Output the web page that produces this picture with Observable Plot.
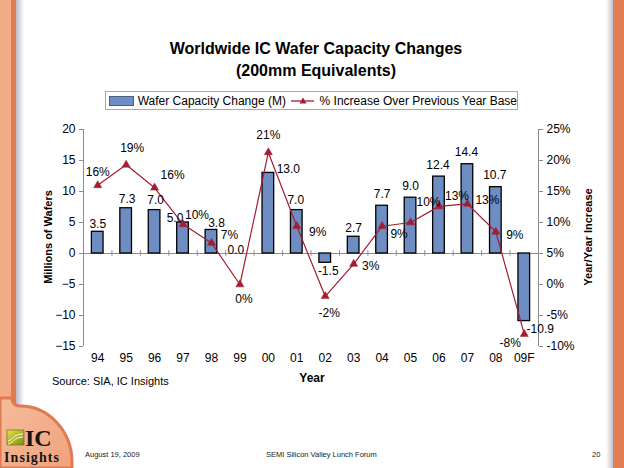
<!DOCTYPE html>
<html>
<head>
<meta charset="utf-8">
<script src="https://cdn.jsdelivr.net/npm/d3@7"></script>
<script src="https://cdn.jsdelivr.net/npm/@observablehq/plot@0.6"></script>
<style>
  html, body { margin: 0; padding: 0; background: #fff; }
  #page { position: relative; width: 624px; height: 468px; overflow: hidden; background: #fff; font-family: "Liberation Sans", Arial, sans-serif; color: #000; }
  .abs { position: absolute; white-space: nowrap; }
  #title { left: 16px; width: 600px; top: 38px; text-align: center; font-weight: bold; font-size: 16px; line-height: 22px; }
  #legend { left: 105px; top: 91px; width: 413px; height: 19px; border: 1px solid #a8a8a8; box-sizing: border-box; display: flex; align-items: center; font-size: 12px; }
  #chart { left: 0; top: 110px; }
  .ylab { font-weight: bold; font-size: 11px; transform: rotate(-90deg); transform-origin: center center; }
  .foot { font-size: 7.5px; line-height: 10px; color: #222; top: 450px; font-family: "Liberation Sans", Arial, sans-serif; }
</style>
</head>
<body>
<div id="page">
  <svg class="abs" style="left:0;top:0" width="624" height="468">
    <defs>
      <linearGradient id="shadeL" x1="0" x2="1" y1="0" y2="0">
        <stop offset="0" stop-color="#b9b9c4"/>
        <stop offset="1" stop-color="#ffffff"/>
      </linearGradient>
      <linearGradient id="shadeR" x1="1" x2="0" y1="0" y2="0">
        <stop offset="0" stop-color="#b9b9c4"/>
        <stop offset="1" stop-color="#ffffff"/>
      </linearGradient>
      <linearGradient id="corner" x1="0" x2="1" y1="0" y2="1">
        <stop offset="0" stop-color="#f6bc9c"/>
        <stop offset="1" stop-color="#f0a27c"/>
      </linearGradient>
      <linearGradient id="icon" x1="0" x2="1" y1="0" y2="1">
        <stop offset="0" stop-color="#e8e040"/>
        <stop offset="1" stop-color="#7c8c18"/>
      </linearGradient>
    </defs>
    <rect x="16" y="0" width="8" height="468" fill="url(#shadeL)"/>
    <rect x="0" y="0" width="12" height="468" fill="#f2ab85"/>
    <rect x="11" y="0" width="5" height="468" fill="#e07a50"/>
    <rect x="606" y="0" width="8" height="468" fill="url(#shadeR)"/>
    <rect x="613" y="0" width="11" height="468" fill="#e27e55"/>
    <path d="M0,398 L12,398 Q12,406 20,406 A52,56 0 0 1 72,462 L72,468 L0,468 Z" fill="url(#corner)" stroke="#e07a50" stroke-width="3"/>
    <rect x="7" y="430" width="17" height="15" fill="url(#icon)" stroke="#5a6410" stroke-width="0.6"/>
    <path d="M8,441 C12,441 13,434 23,434 M8,444 C12,444 14,437 23,437" fill="none" stroke="#fbfbe0" stroke-width="1"/>
    <text x="25" y="446" font-family="Liberation Serif, DejaVu Serif, serif" font-weight="bold" font-size="24" fill="#151515">IC</text>
    <text x="4" y="462" font-family="Liberation Serif, DejaVu Serif, serif" font-weight="bold" font-size="14" fill="#151515" textLength="55">Insights</text>
  </svg>

  <div id="title" class="abs">Worldwide IC Wafer Capacity Changes<br>(200mm Equivalents)</div>

  <div id="legend" class="abs">
    <span style="display:inline-block;width:25px;height:8px;background:#6d8dc3;border:0.5px solid #4b5f80;margin-left:3px;margin-right:4px"></span>
    <span>Wafer Capacity Change (M)</span>
    <svg width="26" height="10" style="margin-left:4px;margin-right:6px"><line x1="1" y1="5" x2="25" y2="5" stroke="#a31d30" stroke-width="1.3"/><path d="M13,1.5 L16.5,7.5 L9.5,7.5 Z" fill="#a31d30"/></svg>
    <span>% Increase Over Previous Year Base</span>
  </div>

  <div id="chart" class="abs"></div>

  <div class="abs ylab" style="left:0px;top:231px;width:96px;text-align:center">Millions of Wafers</div>
  <div class="abs ylab" style="left:536px;top:231px;width:104px;text-align:center">Year/Year Increase</div>
  <div class="abs" style="left:292px;top:371px;width:40px;text-align:center;font-weight:bold;font-size:12px">Year</div>
  <div class="abs" style="left:52px;top:375px;font-size:11px">Source: SIA, IC Insights</div>

  <div class="abs foot" style="left:85px">August 19, 2009</div>
  <div class="abs foot" style="left:266px">SEMI Silicon Valley Lunch Forum</div>
  <div class="abs foot" style="left:592px">20</div>
</div>

<script>
// ---- data ----
const years = ["94","95","96","97","98","99","00","01","02","03","04","05","06","07","08","09F"];
const capacity = [3.5, 7.3, 7.0, 5.0, 3.8, 0.0, 13.0, 7.0, -1.5, 2.7, 7.7, 9.0, 12.4, 14.4, 10.7, -10.9];
const pctIncrease = [16.0, 19.3, 15.6, 9.7, 6.7, 0.0, 21.3, 9.4, -1.9, 3.3, 9.4, 10.0, 12.6, 13.0, 8.5, -8.0];
const leftTicks = [-15, -10, -5, 0, 5, 10, 15, 20];
const rightTickLabels = ["-10%", "-5%", "0%", "5%", "10%", "15%", "20%", "25%"];
const rightAxisOffset = 5; // right axis % = left axis value + 5

// ---- chart ----
const W = 610, H = 280, mL = 83, mR = 72, mT = 19, mB = 44;
const pxX = (W - mL - mR) / years.length;
const pxY = (H - mT - mB) / (20 - (-15));

// label nudges in pixels (dx, dy)
const barNudge = [[0,-8],[1,-9],[1,-10],[-8,-4],[5,-7],[-4,-3],[20,-4],[-1,-10],[3,8],[0,-9],[0,-12],[0,-12],[-1,-11],[-1,-12],[-1,-12],[16,8]];
const pctNudge = [[0,-13],[6,-17],[18,-13],[14,-9],[18,-8],[4,15],[0,-17],[21,6],[4,17],[17,2],[17,8],[18,-20],[18,-10],[20,-4],[19,3],[-14,9]];

const data = years.map((y, i) => ({
  i, year: y, cap: capacity[i], pct: pctIncrease[i],
  line: pctIncrease[i] - rightAxisOffset
}));

const red = "#a31d30";
const grey = "#8c8c8c";

const chart = Plot.plot({
  width: W, height: H,
  marginLeft: mL, marginRight: mR, marginTop: mT, marginBottom: mB,
  style: { fontFamily: "Liberation Sans, Arial, sans-serif", fontSize: "12px", color: "#000", background: "transparent", overflow: "visible" },
  x: { type: "linear", domain: [-0.5, years.length - 0.5] },
  y: { domain: [-15, 20] },
  marks: [
    Plot.ruleY([0], { stroke: grey, strokeWidth: 1 }),
    Plot.ruleX(d3.range(years.length - 1).map(i => i + 0.5), { y1: -0.45, y2: 0.45, stroke: grey }),
    Plot.rect(data, {
      x1: d => d.i - 0.205, x2: d => d.i + 0.205, y1: 0, y2: "cap",
      fill: "#6d8dc3", stroke: "#000", strokeWidth: 1.3
    }),
    Plot.ruleX([-0.5, years.length - 0.5], { stroke: grey }),
    Plot.axisY({ anchor: "left", ticks: leftTicks, tickSize: 4, tickPadding: 4, stroke: grey, fill: "#000", label: null }),
    Plot.axisY({ anchor: "right", ticks: leftTicks, tickSize: 4, tickPadding: 4, stroke: grey, fill: "#000", label: null,
      tickFormat: d => rightTickLabels[leftTicks.indexOf(d)] }),
    Plot.axisX({ anchor: "bottom", ticks: d3.range(years.length), tickSize: 0, tickPadding: 7, fill: "#000", label: null,
      tickFormat: i => years[i] }),
    Plot.line(data, { x: "i", y: "line", stroke: red, strokeWidth: 1.2 }),
    Plot.dot(data, { x: "i", y: "line", symbol: "triangle", r: 3, fill: red, stroke: red, strokeWidth: 0.5 }),
    Plot.text(data, {
      x: d => d.i + barNudge[d.i][0] / pxX,
      y: d => d.cap - barNudge[d.i][1] / pxY,
      text: d => d.cap.toFixed(1), fill: "#000"
    }),
    Plot.text(data, {
      x: d => d.i + pctNudge[d.i][0] / pxX,
      y: d => d.line - pctNudge[d.i][1] / pxY,
      text: d => Math.round(d.pct) + "%", fill: "#000"
    })
  ]
});
document.getElementById("chart").appendChild(chart);
</script>
</body>
</html>
